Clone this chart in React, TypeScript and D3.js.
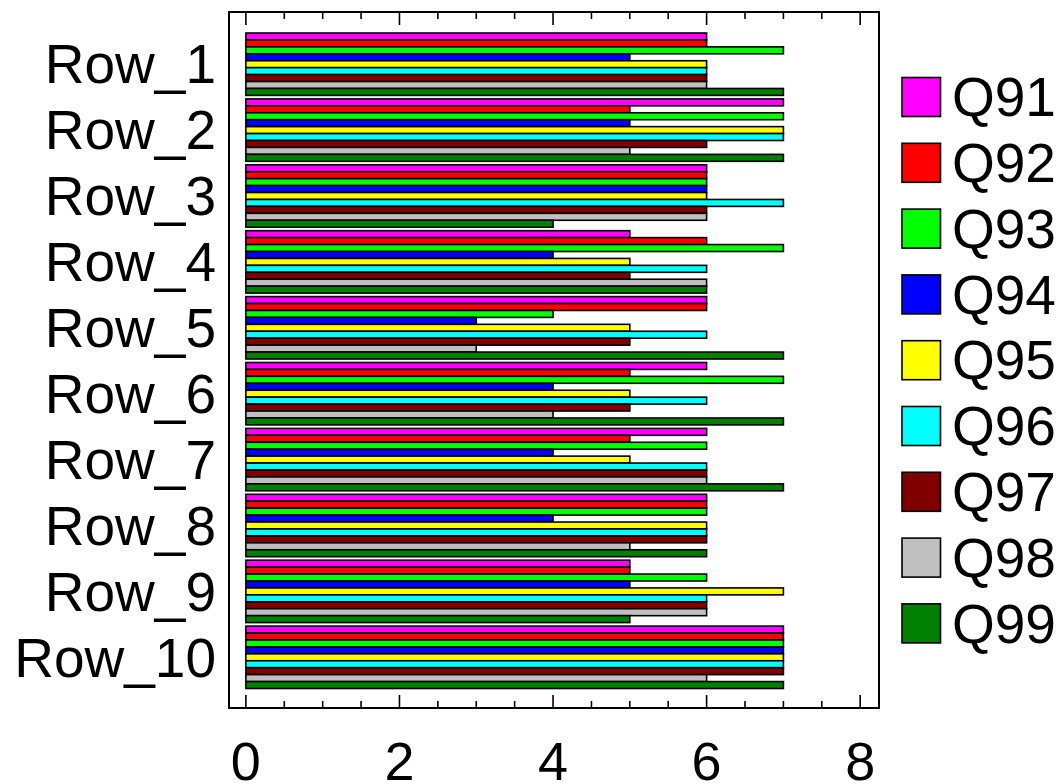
import React from "react";
import * as d3 from "d3";

// Row categories (top to bottom) and the nine question series
const rows = ["Row_1", "Row_2", "Row_3", "Row_4", "Row_5", "Row_6", "Row_7", "Row_8", "Row_9", "Row_10"];
const series = ["Q91", "Q92", "Q93", "Q94", "Q95", "Q96", "Q97", "Q98", "Q99"];
const seriesColors = ["#FF00FF", "#FF0000", "#00FF00", "#0000FF", "#FFFF00", "#00FFFF", "#800000", "#C0C0C0", "#008000"];

// Scores per series, one value per row
const q91 = [6, 7, 6, 5, 6, 6, 6, 6, 5, 7];
const q92 = [6, 5, 6, 6, 6, 5, 5, 6, 5, 7];
const q93 = [7, 7, 6, 7, 4, 7, 6, 6, 6, 7];
const q94 = [5, 5, 6, 4, 3, 4, 4, 4, 5, 7];
const q95 = [6, 7, 6, 5, 5, 5, 5, 6, 7, 7];
const q96 = [6, 7, 7, 6, 6, 6, 6, 6, 6, 7];
const q97 = [6, 6, 6, 5, 5, 5, 6, 6, 6, 7];
const q98 = [6, 5, 6, 6, 3, 4, 6, 5, 6, 6];
const q99 = [7, 7, 4, 6, 7, 7, 7, 6, 5, 7];
const seriesValues = [q91, q92, q93, q94, q95, q96, q97, q98, q99];

const xTicks = [0, 2, 4, 6, 8];

const W = 1061;
const H = 784;
const frame = { left: 229, right: 879, top: 12, bottom: 708 };
const FONT = "'Liberation Sans', Arial, Helvetica, sans-serif";

export default function App() {
  const x = d3.scaleLinear().domain([-0.22, 8.245]).range([frame.left, frame.right]);
  const y = d3.scaleBand<string>().domain(rows).range([33, 688.5]).paddingInner(0.053).paddingOuter(0);
  const inner = d3.scaleBand<string>().domain(series).range([0, y.bandwidth()]).padding(0);

  const minorTicks = d3.range(0, 8.001, 0.5);

  return (
    <svg
      width={W}
      height={H}
      style={{ position: "absolute", left: 0, top: 0, background: "#fff" }}
      fontFamily={FONT}
    >
      <rect x={0} y={0} width={W} height={H} fill="#fff" />

      {/* bars */}
      {rows.map((r, ri) => (
        <g key={r} transform={`translate(0,${y(r)})`}>
          {series.map((s, si) => {
            const v = seriesValues[si][ri];
            return (
              <rect
                key={s}
                x={x(0)}
                y={inner(s)}
                width={x(v) - x(0)}
                height={inner.bandwidth()}
                fill={seriesColors[si]}
                stroke="#000"
                strokeWidth={1.6}
              />
            );
          })}
        </g>
      ))}

      {/* ticks on bottom and top edges */}
      {minorTicks.map((t) => {
        const major = Math.abs(t / 2 - Math.round(t / 2)) < 1e-6;
        const len = major ? 13 : 7;
        return (
          <g key={t}>
            <line x1={x(t)} x2={x(t)} y1={frame.bottom} y2={frame.bottom - len} stroke="#000" strokeWidth={1.6} />
            <line x1={x(t)} x2={x(t)} y1={frame.top} y2={frame.top + len} stroke="#000" strokeWidth={1.6} />
          </g>
        );
      })}

      {/* plot frame */}
      <rect
        x={frame.left}
        y={frame.top}
        width={frame.right - frame.left}
        height={frame.bottom - frame.top}
        fill="none"
        stroke="#000"
        strokeWidth={2}
      />

      {/* x tick labels */}
      {xTicks.map((t) => (
        <text key={t} x={x(t)} y={780} textAnchor="middle" fontSize={54} fill="#000">
          {t}
        </text>
      ))}

      {/* row labels */}
      {rows.map((r) => (
        <text
          key={r}
          x={216}
          y={(y(r) as number) + y.bandwidth() / 2}
          dy="0.35em"
          textAnchor="end"
          fontSize={55}
          fill="#000"
        >
          {r}
        </text>
      ))}

      {/* legend */}
      {series.map((s, i) => {
        const top = 77.5 + i * 65.8;
        return (
          <g key={s}>
            <rect x={902} y={top} width={38.5} height={39} fill={seriesColors[i]} stroke="#000" strokeWidth={1.6} />
            <text x={952} y={top + 19.5} dy="0.35em" fontSize={55} fill="#000">
              {s}
            </text>
          </g>
        );
      })}
    </svg>
  );
}
